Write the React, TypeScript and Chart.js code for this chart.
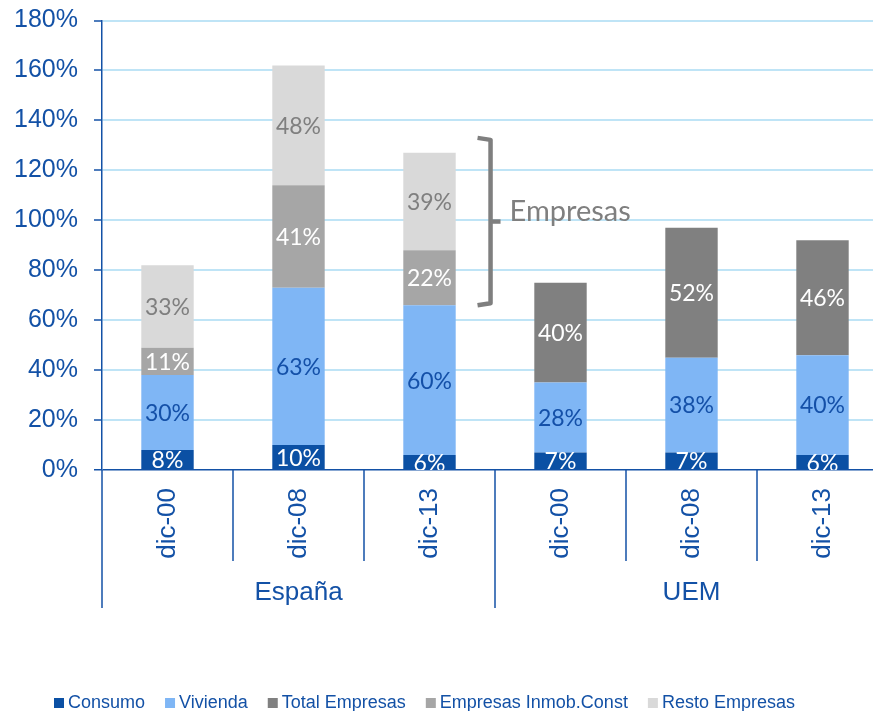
import React, { useEffect, useRef } from 'react';
import { Chart, registerables } from 'chart.js';

Chart.register(...registerables);

const categories = ['dic-00', 'dic-08', 'dic-13', 'dic-00', 'dic-08', 'dic-13'];
const groups = ['España', 'UEM'];
const groupSize = 3;
const consumo = [8, 10, 6, 7, 7, 6];
const vivienda = [30, 63, 60, 28, 38, 40];
const totalEmpresas = [null, null, null, 40, 52, 46];
const inmobConst = [11, 41, 22, null, null, null];
const restoEmpresas = [33, 48, 39, null, null, null];
const yMax = 180;
const yStep = 20;
const bracketFrom = 66;
const bracketTo = 133;
const bracketLabel = 'Empresas';

const BLUE = '#1351a6';
const GRID = '#bfe4f6';
const ARIAL = '"Liberation Sans", Arial, sans-serif';
const LABELFONT = 'Lato, "Open Sans", sans-serif';

const seriesNames = ['Consumo', 'Vivienda', 'Total Empresas', 'Empresas Inmob.Const', 'Resto Empresas'];
const seriesColors = ['#0b50a4', '#7fb6f5', '#808080', '#a6a6a6', '#d9d9d9'];
const labelColors = ['#ffffff', '#1450a8', '#ffffff', '#ffffff', '#7f7f7f'];

const decorPlugin = {
  id: 'decor',
  afterDatasetsDraw(chart: any) {
    const { ctx, chartArea } = chart;
    ctx.save();
    ctx.beginPath();
    ctx.rect(chartArea.left, chartArea.top - 20, chartArea.right - chartArea.left, chartArea.bottom - chartArea.top + 20);
    ctx.clip();
    ctx.font = `23px ${LABELFONT}`;
    ctx.textAlign = 'center';
    ctx.textBaseline = 'middle';
    chart.data.datasets.forEach((ds: any, di: number) => {
      const meta = chart.getDatasetMeta(di);
      meta.data.forEach((el: any, i: number) => {
        const v = ds.data[i];
        if (v == null) return;
        ctx.fillStyle = labelColors[di];
        ctx.fillText(`${v}%`, el.x, (el.y + el.base) / 2 + 1);
      });
    });
    ctx.restore();
  },
  afterDraw(chart: any) {
    const { ctx, chartArea, scales } = chart;
    const x = scales.x;
    const y = scales.y;
    const n = categories.length;
    const catW = (chartArea.right - chartArea.left) / n;
    ctx.save();
    // y axis extension
    ctx.strokeStyle = BLUE;
    ctx.lineWidth = 1.5;
    ctx.beginPath();
    ctx.moveTo(chartArea.left, chartArea.bottom);
    ctx.lineTo(chartArea.left, chartArea.bottom + 138);
    ctx.stroke();
    // separators
    for (let i = 1; i <= n; i++) {
      const bx = chartArea.left + i * catW;
      const isGroup = i % groupSize === 0;
      ctx.beginPath();
      ctx.moveTo(bx, chartArea.bottom);
      ctx.lineTo(bx, chartArea.bottom + (isGroup ? 138 : 91));
      ctx.stroke();
    }
    // group labels
    ctx.fillStyle = BLUE;
    ctx.font = `26px ${ARIAL}`;
    ctx.textAlign = 'center';
    ctx.textBaseline = 'middle';
    groups.forEach((g, gi) => {
      const cx = chartArea.left + (gi * groupSize + groupSize / 2) * catW;
      ctx.fillText(g, cx, chartArea.bottom + 123);
    });
    // bracket
    const bxp = x.getPixelForValue(2) + catW * 0.466;
    const top = y.getPixelForValue(bracketTo);
    const bot = y.getPixelForValue(bracketFrom);
    const mid = (top + bot) / 2;
    ctx.strokeStyle = '#7f7f7f';
    ctx.lineWidth = 4.5;
    ctx.lineJoin = 'round';
    ctx.lineCap = 'butt';
    ctx.beginPath();
    ctx.moveTo(bxp - 13, top);
    ctx.lineTo(bxp, top + 2);
    ctx.lineTo(bxp, bot - 2);
    ctx.lineTo(bxp - 13, bot);
    ctx.stroke();
    ctx.beginPath();
    ctx.moveTo(bxp, mid);
    ctx.lineTo(bxp + 10, mid);
    ctx.stroke();
    ctx.fillStyle = '#7f7f7f';
    ctx.font = `29px ${LABELFONT}`;
    ctx.textAlign = 'left';
    ctx.fillText(bracketLabel, bxp + 19, mid - 10);
    // legend
    ctx.font = `18px ${ARIAL}`;
    ctx.textBaseline = 'middle';
    let lx = 46;
    const ly = 695;
    seriesNames.forEach((name, i) => {
      ctx.fillStyle = seriesColors[i];
      ctx.fillRect(lx, ly - 5, 10, 10);
      lx += 14;
      ctx.fillStyle = BLUE;
      ctx.fillText(name, lx, ly);
      lx += ctx.measureText(name).width + 20;
    });
    ctx.restore();
  },
};

export default function App() {
  const ref = useRef<HTMLCanvasElement>(null);
  useEffect(() => {
    if (!ref.current) return;
    const series = [consumo, vivienda, totalEmpresas, inmobConst, restoEmpresas];
    const chart = new Chart(ref.current, {
      type: 'bar',
      data: {
        labels: categories,
        datasets: series.map((d, i) => ({
          label: seriesNames[i],
          data: d,
          backgroundColor: seriesColors[i],
          borderWidth: 0,
          categoryPercentage: 1,
          barPercentage: 0.4,
        })),
      },
      options: {
        responsive: false,
        animation: false,
        devicePixelRatio: 1,
        layout: { padding: 0 },
        plugins: { legend: { display: false }, tooltip: { enabled: false } },
        scales: {
          x: {
            stacked: true,
            offset: true,
            grid: { display: false, drawTicks: false },
            border: { display: false },
            ticks: {
              autoSkip: false,
              minRotation: 90,
              maxRotation: 90,
              padding: 18,
              color: BLUE,
              font: { family: ARIAL, size: 26 },
            },
            afterFit(scale: any) {
              scale.height = 241;
            },
          },
          y: {
            stacked: true,
            min: 0,
            max: yMax,
            ticks: {
              stepSize: yStep,
              padding: 16,
              color: BLUE,
              font: { family: ARIAL, size: 25, lineHeight: 1 },
              callback: (v: any) => `${v}%`,
            },
            grid: {
              color: (c: any) => (c.tick && c.tick.value === 0 ? BLUE : GRID),
              lineWidth: (c: any) => (c.tick && c.tick.value === 0 ? 1.5 : 2),
              tickColor: BLUE,
              tickLength: 8,
              tickWidth: 1.5,
            },
            border: { display: true, color: BLUE, width: 1.5 },
            afterFit(scale: any) {
              scale.width = 94;
              scale.paddingTop = 12.5;
              scale.paddingBottom = 0;
            },
          },
        },
      },
      plugins: [decorPlugin],
    });
    return () => chart.destroy();
  }, []);
  return (
    <div style={{ width: 865, height: 703, overflow: 'hidden' }}>
      <canvas ref={ref} width={880} height={703} />
    </div>
  );
}
